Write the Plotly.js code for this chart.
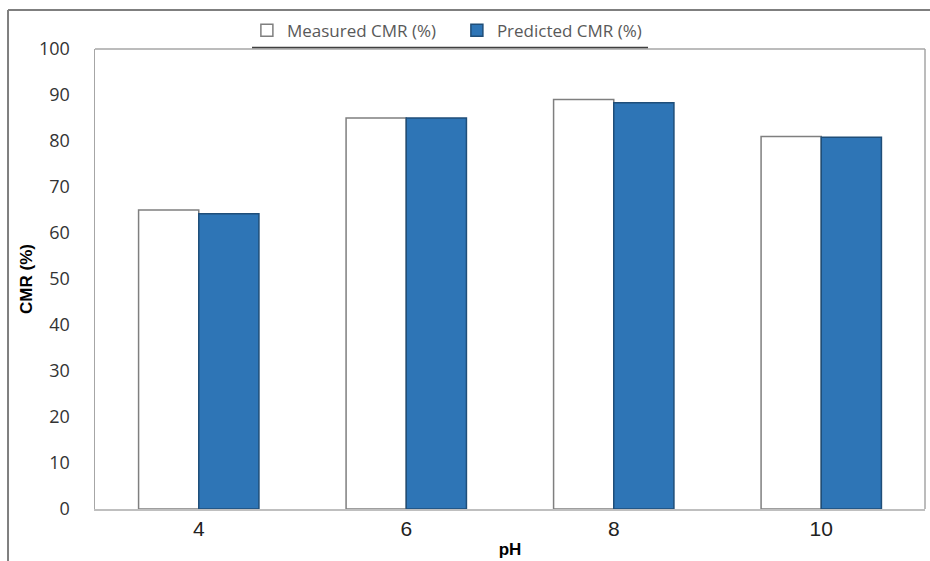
<!DOCTYPE html>
<html>
<head>
<meta charset="utf-8">
<script src="https://cdn.plot.ly/plotly-3.0.1.min.js"></script>
<style>html,body{margin:0;padding:0;background:#fff;}#chart{width:930px;height:561px;}</style>
</head>
<body>
<div id="chart"></div>
<script>
const categories = ["4", "6", "8", "10"];
const measuredCMR = [65, 85, 89, 81];
const predictedCMR = [64.2, 85, 88.3, 80.8];
const seriesNames = ["Measured CMR (%)", "Predicted CMR (%)"];
const yTicks = [0, 10, 20, 30, 40, 50, 60, 70, 80, 90, 100];

const traces = [
  {
    type: "bar", name: seriesNames[0], x: categories, y: measuredCMR,
    marker: {color: "#ffffff", line: {color: "#7f7f7f", width: 1.5}}
  },
  {
    type: "bar", name: seriesNames[1], x: categories, y: predictedCMR,
    marker: {color: "#2e75b6", line: {color: "#1f4e79", width: 1.5}}
  }
];

const layout = {
  width: 930, height: 561,
  margin: {l: 95, r: 5, t: 49, b: 52},
  paper_bgcolor: "#ffffff", plot_bgcolor: "#ffffff",
  barmode: "group", bargap: 0.42, bargroupgap: 0,
  showlegend: true,
  legend: {
    orientation: "h", x: 0.183, xanchor: "left", y: 1.04, yanchor: "middle",
    font: {family: "Open Sans", size: 17, color: "#595959"},
    bgcolor: "rgba(0,0,0,0)", itemwidth: 30, entrywidth: 165, entrywidthmode: "pixels"
  },
  xaxis: {
    type: "category",
    showline: true, linecolor: "#bfbfbf", linewidth: 2, mirror: false,
    showgrid: false, zeroline: false, ticks: "",
    tickfont: {family: "Liberation Sans", size: 21, color: "#222"},
    title: {text: "<b>pH</b>", font: {family: "Liberation Sans", size: 17, color: "#000"}, standoff: 4}
  },
  yaxis: {
    range: [0, 100], tickvals: yTicks,
    showline: true, linecolor: "#a6a6a6", linewidth: 1.5,
    showgrid: false, zeroline: false,
    ticks: "outside", ticklen: 20, tickcolor: "rgba(0,0,0,0)",
    tickfont: {family: "Open Sans", size: 18, color: "#333"},
    title: {text: "<b>CMR (%)</b>", font: {family: "Liberation Sans", size: 17, color: "#000"}, standoff: 2}
  },
  shapes: [
    {type: "line", xref: "paper", yref: "paper", x0: 0, x1: 1, y0: 1, y1: 1, line: {color: "#a6a6a6", width: 1.5}},
    {type: "line", xref: "paper", yref: "paper", x0: 1, x1: 1, y0: 0, y1: 1, line: {color: "#a6a6a6", width: 1.5}},
    {type: "line", xref: "paper", yref: "paper", x0: 0.1892, x1: 0.6663, y0: 1.003, y1: 1.003, line: {color: "#404040", width: 1.5}},
    {type: "line", xref: "paper", yref: "paper", x0: -0.1048, x1: 1.01, y0: 1.0848, y1: 1.0848, line: {color: "#7f7f7f", width: 2}},
    {type: "line", xref: "paper", yref: "paper", x0: -0.1048, x1: -0.1048, y0: -0.12, y1: 1.0848, line: {color: "#7f7f7f", width: 2}}
  ]
};

Plotly.newPlot("chart", traces, layout, {displayModeBar: false, staticPlot: true});
</script>
</body>
</html>
